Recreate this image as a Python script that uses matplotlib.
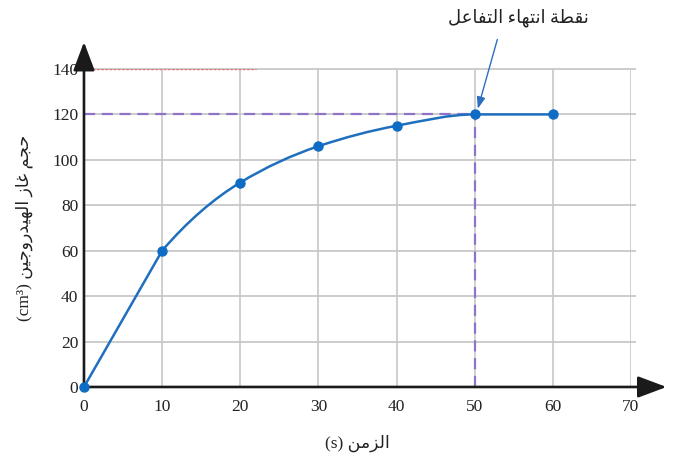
import matplotlib.pyplot as plt
from matplotlib.path import Path
from matplotlib.patches import PathPatch

# data
time_s = [0, 10, 20, 30, 40, 50, 60]
volume_cm3 = [0, 60, 90, 106, 115, 120, 120]
x_ticks = [0, 10, 20, 30, 40, 50, 60, 70]
y_ticks = [0, 20, 40, 60, 80, 100, 120, 140]
end_time = 50
end_volume = 120

title_ar = "نقطة انتهاء التفاعل"
xlabel_ar = "الزمن"
ylabel_ar = "حجم غاز الهيدروجين"

# small arabic shaper (matplotlib has no shaping / bidi)
forms = {
    "ء": (0xFE80,),
    "ا": (0xFE8D, 0xFE8E), "ب": (0xFE8F, 0xFE90, 0xFE91, 0xFE92),
    "ة": (0xFE93, 0xFE94), "ت": (0xFE95, 0xFE96, 0xFE97, 0xFE98),
    "ث": (0xFE99, 0xFE9A, 0xFE9B, 0xFE9C), "ج": (0xFE9D, 0xFE9E, 0xFE9F, 0xFEA0),
    "ح": (0xFEA1, 0xFEA2, 0xFEA3, 0xFEA4), "خ": (0xFEA5, 0xFEA6, 0xFEA7, 0xFEA8),
    "د": (0xFEA9, 0xFEAA), "ذ": (0xFEAB, 0xFEAC), "ر": (0xFEAD, 0xFEAE),
    "ز": (0xFEAF, 0xFEB0), "س": (0xFEB1, 0xFEB2, 0xFEB3, 0xFEB4),
    "ش": (0xFEB5, 0xFEB6, 0xFEB7, 0xFEB8), "ص": (0xFEB9, 0xFEBA, 0xFEBB, 0xFEBC),
    "ض": (0xFEBD, 0xFEBE, 0xFEBF, 0xFEC0), "ط": (0xFEC1, 0xFEC2, 0xFEC3, 0xFEC4),
    "ظ": (0xFEC5, 0xFEC6, 0xFEC7, 0xFEC8), "ع": (0xFEC9, 0xFECA, 0xFECB, 0xFECC),
    "غ": (0xFECD, 0xFECE, 0xFECF, 0xFED0), "ف": (0xFED1, 0xFED2, 0xFED3, 0xFED4),
    "ق": (0xFED5, 0xFED6, 0xFED7, 0xFED8), "ك": (0xFED9, 0xFEDA, 0xFEDB, 0xFEDC),
    "ل": (0xFEDD, 0xFEDE, 0xFEDF, 0xFEE0), "م": (0xFEE1, 0xFEE2, 0xFEE3, 0xFEE4),
    "ن": (0xFEE5, 0xFEE6, 0xFEE7, 0xFEE8), "ه": (0xFEE9, 0xFEEA, 0xFEEB, 0xFEEC),
    "و": (0xFEED, 0xFEEE), "ى": (0xFEEF, 0xFEF0),
    "ي": (0xFEF1, 0xFEF2, 0xFEF3, 0xFEF4),
}


def shape(s):
    out = []
    for i, c in enumerate(s):
        f = forms.get(c)
        if f is None or len(f) == 1:
            out.append(chr(f[0]) if f else c)
            continue
        p = s[i - 1] if i > 0 else ""
        n = s[i + 1] if i + 1 < len(s) else ""
        pj = p in forms and len(forms[p]) == 4
        nj = len(f) == 4 and n in forms and len(forms[n]) > 1
        if pj and nj:
            out.append(chr(f[3]))
        elif pj:
            out.append(chr(f[1]))
        elif nj:
            out.append(chr(f[2]))
        else:
            out.append(chr(f[0]))
    return "".join(out)[::-1]


ar_font = ["Liberation Serif", "DejaVu Sans"]
blue = "#1f6fbf"
purple = "#9073c8"

fig = plt.figure(figsize=(6.85, 4.59), dpi=100)
ax = fig.add_axes([0.1226, 0.1569, 0.7985, 0.6928])
ax.set_xlim(0, 70)
ax.set_ylim(0, 140)
for s in ax.spines.values():
    s.set_visible(False)

# grid
ax.vlines(x_ticks[1:], 0, 140, color="#c2c2c2", lw=1.1, zorder=1)
ax.hlines(y_ticks[1:], 0, 70.7, color="#c8c8c8", lw=1.3, zorder=1, clip_on=False)
ax.hlines(140, 0, 22, color="#e07a7a", lw=1.0, linestyles=(0, (2, 1)), zorder=2)

# end-of-reaction guides
ax.plot([0, end_time], [end_volume, end_volume], color=purple, lw=1.6,
        dashes=(5, 3), zorder=2)
ax.plot([end_time, end_time], [0, end_volume], color=purple, lw=1.6,
        dashes=(5, 3), zorder=2)

# smooth curve through points (monotone cubic, drawn as bezier path)
d = [(volume_cm3[i + 1] - volume_cm3[i]) / (time_s[i + 1] - time_s[i])
     for i in range(len(time_s) - 1)]
m = [d[0]]
for i in range(1, len(d)):
    if d[i - 1] * d[i] <= 0:
        m.append(0.0)
    else:
        m.append(2 / (1 / d[i - 1] + 1 / d[i]))
m.append(d[-1])
verts = [(time_s[0], volume_cm3[0])]
codes = [Path.MOVETO]
for i in range(len(d)):
    h = time_s[i + 1] - time_s[i]
    m_start = d[0] if i == 0 else m[i]
    m_end = d[0] if i == 0 else m[i + 1]   # first stretch is straight
    verts += [(time_s[i] + h / 3, volume_cm3[i] + m_start * h / 3),
              (time_s[i + 1] - h / 3, volume_cm3[i + 1] - m_end * h / 3),
              (time_s[i + 1], volume_cm3[i + 1])]
    codes += [Path.CURVE4] * 3
ax.add_patch(PathPatch(Path(verts, codes), fill=False, edgecolor=blue,
                       lw=1.8, zorder=3))
ax.plot(time_s, volume_cm3, "o", color="#0e6cc4", ms=6.5, zorder=5,
        clip_on=False)

# axes with arrows
for tip in [(1.065, 0), (0, 1.085)]:
    ax.annotate("", xy=tip, xytext=(0, 0), xycoords="axes fraction",
                arrowprops=dict(arrowstyle="-|>,head_length=0.8,head_width=0.3",
                                lw=1.9, color="#1a1a1a", mutation_scale=22,
                                shrinkA=0, shrinkB=0), zorder=4)

ax.set_xticks(x_ticks)
ax.set_yticks(y_ticks)
ax.tick_params(length=0, labelsize=12.5, colors="#222222")
ax.tick_params(axis="x", pad=9)
ax.tick_params(axis="y", pad=4)
for lab in ax.get_xticklabels() + ax.get_yticklabels():
    lab.set_family("Liberation Serif")

# annotation
ax.text(55.6, 162.5, shape(title_ar), family=ar_font, fontsize=13,
        ha="center", va="center", color="#222222")
ax.annotate("", xy=(50.4, 122.5), xytext=(52.9, 153), xycoords="data",
            arrowprops=dict(arrowstyle="-|>,head_length=0.5,head_width=0.18",
                            lw=1, color="#2a6fc0", mutation_scale=14,
                            shrinkA=0, shrinkB=0), annotation_clip=False)

ax.set_xlabel("(s) " + shape(xlabel_ar), family=ar_font, fontsize=12.5,
              color="#222222", labelpad=14)
ax.set_ylabel("(cm³) " + shape(ylabel_ar), family=ar_font, fontsize=12.5,
              color="#222222", labelpad=14)

fig.savefig("out.png", dpi=100)
